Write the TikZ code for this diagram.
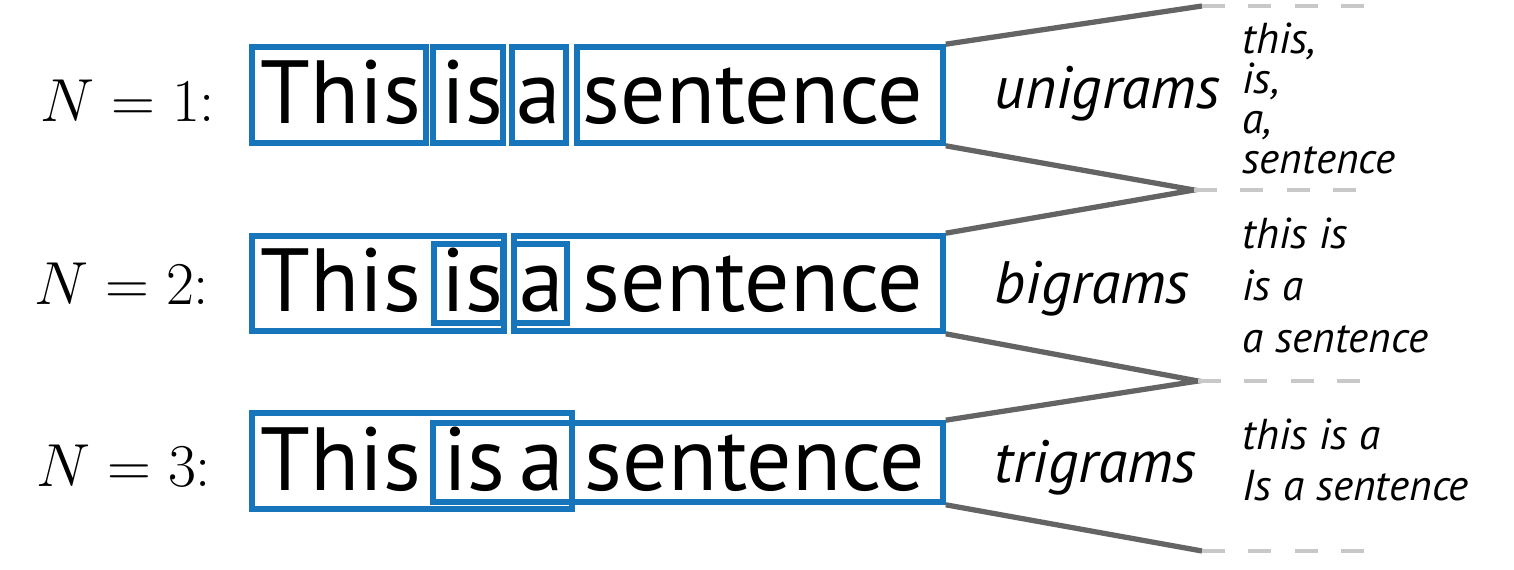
\documentclass[tikz,border=0pt]{standalone}
\usepackage{fontspec}
\setsansfont{PT Sans}
\usetikzlibrary{fit,positioning}
\definecolor{gramblue}{RGB}{23,117,187}
\definecolor{linkgrey}{RGB}{100,100,100}
\definecolor{dashgrey}{RGB}{200,200,200}
\tikzset{
    gram/.style =   {rectangle,
                    draw=gramblue,
                    line width=1.6pt,
                    inner sep=0pt},
    word/.style =   {anchor=base west,
                    inner sep=0pt,
                    text=black,
                    font=\sffamily\fontsize{25.5}{30}\selectfont},
    nlabel/.style = {anchor=base west,
                    inner sep=0pt,
                    font=\fontsize{17}{20}\selectfont},
    kind/.style =   {anchor=base west,
                    inner sep=0pt,
                    font=\sffamily\itshape\fontsize{17}{20}\selectfont},
    item/.style =   {anchor=base west,
                    inner sep=0pt,
                    font=\sffamily\itshape\fontsize{12.3}{15}\selectfont},
    -,
    link/.style =   {draw=linkgrey,
                    line width=1.5pt},
    guide/.style =  {draw=dashgrey,
                    line width=1.4pt,
                    dash pattern=on 6.5pt off 6.7pt}}

\begin{document}
\begin{tikzpicture}[x=0.01cm,y=-0.01cm]
                    \useasboundingbox (0,0) rectangle (1514,570);
                    % N = 1
                    \node[gram, fit={(252,47) (426,143)}]   (u1) {};
                    \node[gram, fit={(433,47) (503,143)}]   (u2) {};
                    \node[gram, fit={(512,47) (566,143)}]   (u3) {};
                    \node[gram, fit={(577,47) (943,143)}]   (u4) {};
                    % N = 2
                    \node[gram, fit={(252,236) (504,331)}]  (b1) {};
                    \node[gram, fit={(434,244) (503,323)}]  (b2) {};
                    \node[gram, fit={(514,244) (567,323)}]  (b3) {};
                    \node[gram, fit={(514,236) (943,331)}]  (b4) {};
                    % N = 3
                    \node[gram, fit={(252,413) (572,509)}]  (t1) {};
                    \node[gram, fit={(433,423) (943,502)}]  (t2) {};

                    \node[nlabel] (n1) at (40,122) {$N = 1{:}$};
                    \node[nlabel] (n2) at (34,305) {$N = 2{:}$};
                    \node[nlabel] (n3) at (36,487) {$N = 3{:}$};

                    \node[word] (w11) at (260,124) {This};
                    \node[word] (w12) at (441,124) {is};
                    \node[word] (w13) at (516,124) {a};
                    \node[word] (w14) at (582,124) {sentence};
                    \node[word] (w21) at (260,312) {This};
                    \node[word] (w22) at (441,312) {is};
                    \node[word] (w23) at (519,312) {a};
                    \node[word] (w24) at (582,312) {sentence};
                    \node[word] (w31) at (260,491) {This};
                    \node[word] (w32) at (443,491) {is};
                    \node[word] (w33) at (519,491) {a};
                    \node[word] (w34) at (584,491) {sentence};

                    \node[kind] (uni) at (994,109) {unigrams};
                    \node[kind] (bi)  at (994,304) {bigrams};
                    \node[kind] (tri) at (994,482) {trigrams};

                    \node[item] (i11) at (1242,54)  {this,};
                    \node[item] (i12) at (1242,94)  {is,};
                    \node[item] (i13) at (1242,134) {a,};
                    \node[item] (i14) at (1242,174) {sentence};
                    \node[item] (i21) at (1242,249) {this is};
                    \node[item] (i22) at (1242,301) {is a};
                    \node[item] (i23) at (1242,353) {a sentence};
                    \node[item] (i31) at (1242,450) {this is a};
                    \node[item] (i32) at (1242,501) {Is a sentence};

                    \coordinate (k0) at (1202,6);
                    \coordinate (k1) at (1194,190);
                    \coordinate (k2) at (1198,381);
                    \coordinate (k3) at (1202,551);
                    \coordinate (e0) at (1366,6);
                    \coordinate (e1) at (1366,190);
                    \coordinate (e2) at (1366,381);
                    \coordinate (e3) at (1366,551);

                    \path[link] (u4.north east) -- (k0)
                                (u4.south east) -- (k1) -- (b4.north east)
                                (b4.south east) -- (k2) -- (t2.north east)
                                (t2.south east) -- (k3);
                    \path[guide] (k0) -- (e0) (k1) -- (e1) (k2) -- (e2) (k3) -- (e3);
        \end{tikzpicture}
\end{document}
